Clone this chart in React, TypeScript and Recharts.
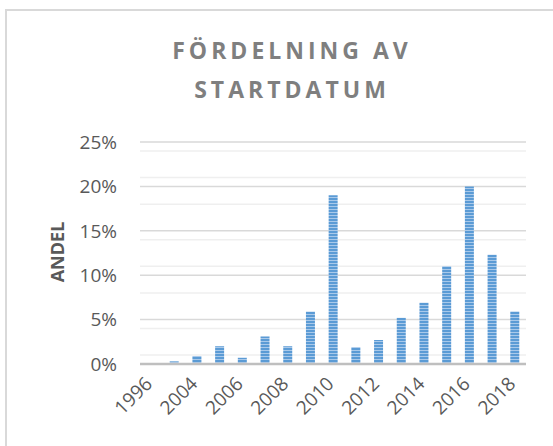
import React from "react";
import { BarChart, Bar, XAxis, YAxis, CartesianGrid } from "recharts";

// start year categories and share of projects (%)
const years = [
  "1996", "2003", "2004", "2005", "2006", "2007", "2008", "2009", "2010",
  "2011", "2012", "2013", "2014", "2015", "2016", "2017", "2018",
];
const shares = [0.1, 0.3, 0.9, 2.0, 0.7, 3.1, 2.0, 5.9, 19.0, 1.9, 2.7, 5.2, 6.9, 11.0, 20.0, 12.3, 5.9];

const majorTicks = [0, 5, 10, 15, 20, 25];
const minorTicks = [1, 2, 3, 4, 6, 7, 8, 9, 11, 12, 13, 14, 16, 17, 18, 19, 21, 22, 23, 24];

const data = years.map((year, i) => ({ year, andel: shares[i] }));

const FONT = "'Open Sans', 'Liberation Sans', sans-serif";
const TEXT = "#595959";

const XTick = ({ x, y, payload }: any) => (
  <g transform={`translate(${x + 2},${y + 19}) rotate(-45)`}>
    <text x={0} y={0} textAnchor="end" fill={TEXT} fontSize={19} fontFamily={FONT}>
      {payload.value}
    </text>
  </g>
);

export default function App() {
  return (
    <div
      style={{
        position: "fixed",
        left: 0,
        top: 0,
        width: 553,
        height: 446,
        overflow: "hidden",
        background: "#fff",
        fontFamily: FONT,
      }}
    >
      <div
        style={{
          position: "absolute",
          left: 5,
          top: 9,
          width: 600,
          height: 500,
          border: "2px solid #d9d9d9",
          boxSizing: "border-box",
        }}
      />
      <div
        style={{
          position: "absolute",
          left: 90,
          width: 404,
          top: 31,
          textAlign: "center",
          color: "#7f7f7f",
          fontWeight: 700,
          fontSize: 23,
          letterSpacing: 4,
          lineHeight: "39px",
        }}
      >
        <div>FÖRDELNING AV</div>
        <div>STARTDATUM</div>
      </div>
      <div
        style={{
          position: "absolute",
          left: 57,
          top: 252,
          transform: "translate(-50%, -50%) rotate(-90deg)",
          color: TEXT,
          fontWeight: 700,
          fontSize: 18,
          whiteSpace: "nowrap",
        }}
      >
        ANDEL
      </div>
      <div style={{ position: "absolute", left: 0, top: 0 }}>
        <BarChart
          width={553}
          height={446}
          data={data}
          margin={{ top: 142, right: 27, bottom: 12, left: 80 }}
          barSize={9}
        >
          <defs>
            <pattern id="stripes" width={4} height={3} patternUnits="userSpaceOnUse">
              <rect x={0} y={0} width={4} height={3} fill="#5b9bd5" />
              <rect x={0} y={2} width={4} height={1} fill="#a9c9ea" />
            </pattern>
          </defs>
          <CartesianGrid
            vertical={false}
            horizontalValues={minorTicks}
            stroke="#efefef"
            strokeWidth={1.5}
          />
          <CartesianGrid vertical={false} stroke="#d9d9d9" strokeWidth={1.5} />
          <XAxis
            dataKey="year"
            interval={1}
            tick={<XTick />}
            tickLine={false}
            tickSize={0}
            height={70}
            axisLine={{ stroke: "#bfbfbf", strokeWidth: 2.5 }}
          />
          <YAxis
            domain={[0, 25]}
            ticks={majorTicks}
            tickFormatter={(v) => `${v}%`}
            axisLine={false}
            tickLine={false}
            tickSize={0}
            tickMargin={23}
            width={60}
            tick={{ fill: TEXT, fontSize: 19, fontFamily: FONT }}
          />
          <Bar dataKey="andel" fill="url(#stripes)" isAnimationActive={false} />
        </BarChart>
      </div>
    </div>
  );
}
